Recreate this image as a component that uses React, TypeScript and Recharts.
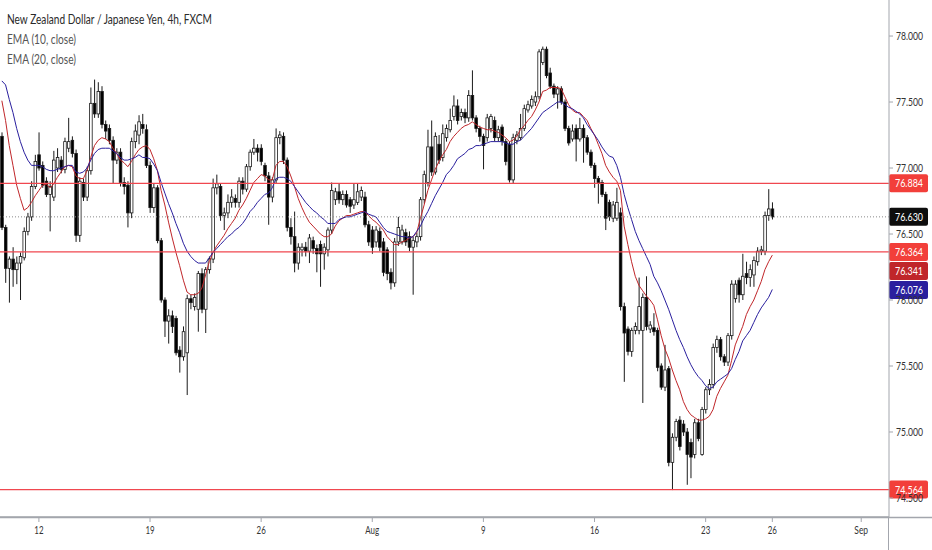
import { Bar, ComposedChart, Line, ReferenceLine, XAxis, YAxis } from 'recharts'

// NZDJPY 4h, FXCM - one entry per candle
const open = [
  77.24, 76.55, 76.24, 76.31, 76.23, 76.28, 76.32, 76.52, 76.63, 76.86,
  77.10, 77.02, 76.90, 76.80, 76.78, 77.00, 77.06, 76.99, 77.15, 77.21,
  77.11, 76.49, 76.89, 76.78, 76.98, 77.49, 77.41, 77.58, 77.33, 77.30,
  77.21, 77.06, 77.12, 76.89, 76.87, 76.66, 77.20, 77.25, 77.33, 77.29,
  77.02, 76.70, 76.85, 76.45, 76.00, 75.84, 75.88, 75.86, 75.62, 75.57,
  75.60, 76.01, 75.95, 75.93, 76.20, 75.93, 76.23, 76.31, 76.85, 76.86,
  76.64, 76.66, 76.74, 76.77, 76.74, 76.90, 76.84, 77.01, 77.12, 77.15,
  77.15, 77.02, 76.94, 76.78, 76.91, 77.23, 77.24, 77.06, 76.55, 76.48,
  76.28, 76.38, 76.40, 76.37, 76.45, 76.39, 76.42, 76.35, 76.38, 76.53,
  76.76, 76.82, 76.76, 76.80, 76.76, 76.72, 76.74, 76.78, 76.78, 76.57,
  76.53, 76.44, 76.52, 76.44, 76.38, 76.21, 76.13, 76.44, 76.44, 76.51,
  76.48, 76.40, 76.44, 76.48, 76.76, 76.89, 77.16, 76.97, 77.18, 77.08,
  77.23, 77.29, 77.39, 77.47, 77.39, 77.42, 77.38, 77.55, 77.38, 77.30,
  77.24, 77.23, 77.30, 77.36, 77.23, 77.31, 77.20, 77.18, 76.91, 77.21,
  77.23, 77.30, 77.44, 77.47, 77.50, 77.54, 77.80, 77.90, 77.72, 77.62,
  77.56, 77.60, 77.50, 77.30, 77.22, 77.30, 77.22, 77.30, 77.23, 77.12,
  77.02, 76.92, 76.89, 76.80, 76.74, 76.62, 76.62, 76.66, 75.95, 75.78,
  75.61, 75.77, 75.77, 75.77, 76.02, 75.78, 75.79, 75.77, 75.50, 75.34,
  75.48, 74.77, 74.96, 75.09, 75.06, 75.00, 74.92, 74.83, 75.07, 74.83,
  75.17, 75.32, 75.36, 75.64, 75.70, 75.57, 75.53, 75.73, 76.01, 76.15,
  76.04, 76.20, 76.17, 76.19, 76.29, 76.37, 76.37, 76.64, 76.69,
]
const high = [
  77.27, 76.57, 76.33, 76.40, 76.33, 76.36, 76.55, 76.66, 76.90, 77.10,
  77.27, 77.05, 76.93, 76.90, 77.13, 77.15, 77.09, 77.23, 77.38, 77.24,
  77.14, 76.93, 76.92, 77.01, 77.61, 77.67, 77.65, 77.62, 77.36, 77.33,
  77.24, 77.15, 77.15, 76.93, 76.90, 77.23, 77.33, 77.40, 77.41, 77.33,
  77.05, 76.88, 76.87, 76.47, 76.02, 75.93, 75.92, 75.88, 75.65, 75.80,
  76.04, 76.04, 76.05, 76.22, 76.24, 76.25, 76.33, 76.92, 76.95, 76.88,
  76.70, 76.80, 76.84, 76.80, 76.93, 76.93, 77.03, 77.14, 77.22, 77.18,
  77.18, 77.04, 76.97, 76.93, 77.30, 77.28, 77.27, 77.08, 76.62, 76.67,
  76.43, 76.43, 76.44, 76.50, 76.48, 76.42, 76.45, 76.43, 76.55, 76.89,
  76.85, 76.88, 76.83, 76.83, 76.78, 76.88, 76.88, 76.86, 76.82, 76.60,
  76.56, 76.56, 76.55, 76.47, 76.40, 76.24, 76.47, 76.63, 76.57, 76.54,
  76.52, 76.48, 76.51, 76.78, 76.98, 77.29, 77.36, 77.27, 77.25, 77.33,
  77.33, 77.45, 77.55, 77.52, 77.45, 77.45, 77.59, 77.74, 77.40, 77.32,
  77.26, 77.41, 77.41, 77.39, 77.32, 77.33, 77.22, 77.20, 77.26, 77.28,
  77.41, 77.48, 77.51, 77.55, 77.58, 77.90, 77.92, 77.92, 77.76, 77.64,
  77.62, 77.62, 77.52, 77.32, 77.33, 77.33, 77.38, 77.33, 77.25, 77.14,
  77.04, 76.94, 76.91, 76.82, 76.76, 76.75, 76.85, 76.70, 75.98, 75.80,
  75.79, 75.83, 76.17, 76.05, 76.18, 75.84, 75.90, 75.79, 75.52, 75.66,
  75.50, 74.99, 75.10, 75.12, 75.09, 75.03, 74.95, 75.10, 75.10, 75.19,
  75.34, 75.40, 75.67, 75.73, 75.72, 75.59, 75.75, 76.15, 76.15, 76.17,
  76.35, 76.29, 76.27, 76.33, 76.40, 76.41, 76.67, 76.84, 76.74,
]
const low = [
  76.53, 76.13, 75.98, 76.10, 76.12, 76.00, 76.30, 76.49, 76.60, 76.84,
  76.98, 76.85, 76.78, 76.52, 76.75, 76.97, 76.96, 76.96, 77.12, 77.08,
  76.44, 76.44, 76.75, 76.75, 76.95, 77.38, 77.38, 77.30, 77.22, 77.18,
  76.88, 77.03, 76.86, 76.80, 76.55, 76.62, 77.15, 77.18, 77.26, 77.00,
  76.66, 76.66, 76.43, 75.98, 75.72, 75.67, 75.75, 75.58, 75.45, 75.54,
  75.28, 75.93, 75.92, 75.76, 75.90, 75.75, 76.20, 76.28, 76.80, 76.60,
  76.53, 76.62, 76.70, 76.70, 76.70, 76.80, 76.82, 76.98, 77.10, 77.05,
  77.02, 76.90, 76.57, 76.74, 76.88, 77.18, 77.03, 76.52, 76.42, 76.21,
  76.23, 76.33, 76.33, 76.28, 76.35, 76.21, 76.10, 76.23, 76.33, 76.50,
  76.72, 76.73, 76.72, 76.70, 76.66, 76.69, 76.72, 76.75, 76.55, 76.41,
  76.35, 76.40, 76.37, 76.18, 76.15, 76.08, 76.10, 76.41, 76.42, 76.41,
  76.37, 76.04, 76.40, 76.45, 76.73, 76.86, 76.94, 76.95, 77.03, 77.05,
  77.20, 77.27, 77.36, 77.33, 77.36, 77.34, 77.35, 77.36, 77.27, 77.20,
  76.99, 77.20, 77.27, 77.20, 77.20, 77.17, 77.02, 76.89, 76.88, 77.18,
  77.21, 77.28, 77.42, 77.45, 77.47, 77.52, 77.78, 77.68, 77.60, 77.53,
  77.45, 77.48, 77.28, 77.17, 77.20, 77.05, 77.20, 77.04, 77.10, 77.00,
  76.85, 76.73, 76.78, 76.53, 76.60, 76.59, 76.60, 75.92, 75.38, 75.58,
  75.57, 75.74, 75.74, 75.22, 75.77, 75.75, 75.73, 75.46, 75.32, 75.31,
  74.74, 74.56, 74.93, 74.86, 74.97, 74.60, 74.65, 74.80, 74.93, 74.82,
  75.14, 75.28, 75.33, 75.60, 75.54, 75.50, 75.50, 75.70, 75.98, 75.98,
  76.00, 76.12, 76.10, 76.10, 76.26, 76.34, 76.34, 76.60, 76.61,
]
const close = [
  76.55, 76.24, 76.31, 76.23, 76.28, 76.33, 76.52, 76.63, 76.86, 77.05,
  77.00, 76.87, 76.80, 76.86, 77.06, 77.08, 76.99, 77.20, 77.20, 77.11,
  76.49, 76.90, 76.78, 76.98, 77.49, 77.41, 77.58, 77.33, 77.28, 77.21,
  77.06, 77.12, 76.89, 76.86, 76.66, 77.20, 77.28, 77.35, 77.30, 77.02,
  76.70, 76.85, 76.45, 76.00, 75.84, 75.88, 75.80, 75.60, 75.57, 75.76,
  76.01, 75.98, 76.02, 76.20, 75.93, 76.23, 76.31, 76.85, 76.88, 76.64,
  76.66, 76.74, 76.78, 76.74, 76.90, 76.84, 77.01, 77.12, 77.15, 77.12,
  77.05, 76.94, 76.78, 76.91, 77.23, 77.25, 77.06, 76.55, 76.48, 76.28,
  76.40, 76.40, 76.37, 76.47, 76.39, 76.35, 76.35, 76.40, 76.53, 76.83,
  76.82, 76.76, 76.80, 76.72, 76.71, 76.76, 76.82, 76.83, 76.57, 76.44,
  76.40, 76.53, 76.40, 76.21, 76.20, 76.13, 76.44, 76.55, 76.53, 76.44,
  76.40, 76.45, 76.48, 76.76, 76.95, 77.16, 76.97, 77.24, 77.06, 77.26,
  77.30, 77.36, 77.47, 77.36, 77.42, 77.38, 77.55, 77.38, 77.30, 77.24,
  77.17, 77.38, 77.39, 77.23, 77.29, 77.20, 77.05, 76.91, 77.23, 77.25,
  77.30, 77.45, 77.48, 77.52, 77.54, 77.88, 77.90, 77.70, 77.62, 77.56,
  77.60, 77.50, 77.30, 77.19, 77.28, 77.22, 77.30, 77.23, 77.12, 77.02,
  76.92, 76.89, 76.80, 76.62, 76.63, 76.72, 76.74, 75.95, 75.75, 75.61,
  75.77, 75.80, 75.95, 76.02, 75.80, 75.81, 75.76, 75.49, 75.34, 75.47,
  74.77, 74.96, 75.08, 74.89, 75.00, 74.83, 74.81, 75.07, 74.95, 75.17,
  75.32, 75.36, 75.64, 75.70, 75.57, 75.53, 75.73, 76.12, 76.12, 76.04,
  76.18, 76.17, 76.23, 76.30, 76.37, 76.38, 76.64, 76.69, 76.63,
]
// EMA lines
const ema10 = [
  77.51, 77.36, 77.17, 77.02, 76.87, 76.77, 76.68, 76.70, 76.74, 76.79,
  76.83, 76.87, 76.88, 76.85, 76.88, 76.93, 76.97, 77.01, 77.02, 77.01,
  76.94, 76.92, 76.92, 76.98, 77.08, 77.17, 77.21, 77.23, 77.22, 77.20,
  77.15, 77.11, 77.06, 77.04, 77.01, 77.05, 77.10, 77.14, 77.16, 77.17,
  77.14, 77.07, 76.98, 76.83, 76.72, 76.59, 76.47, 76.36, 76.26, 76.15,
  76.06, 76.04, 76.04, 76.05, 76.09, 76.19, 76.29, 76.36, 76.41, 76.45,
  76.49, 76.54, 76.58, 76.62, 76.68, 76.72, 76.77, 76.83, 76.89, 76.92,
  76.95, 76.94, 76.91, 76.91, 77.02, 77.05, 77.05, 77.01, 76.94, 76.86,
  76.77, 76.70, 76.64, 76.59, 76.56, 76.53, 76.50, 76.48, 76.48, 76.50,
  76.56, 76.60, 76.62, 76.64, 76.64, 76.65, 76.66, 76.67, 76.67, 76.64,
  76.61, 76.59, 76.56, 76.53, 76.48, 76.45, 76.42, 76.42, 76.44, 76.45,
  76.47, 76.48, 76.51, 76.62, 76.72, 76.83, 76.91, 76.99, 77.05, 77.10,
  77.14, 77.20, 77.24, 77.27, 77.30, 77.32, 77.33, 77.35, 77.33, 77.31,
  77.30, 77.29, 77.29, 77.28, 77.27, 77.25, 77.23, 77.20, 77.21, 77.24,
  77.29, 77.32, 77.36, 77.39, 77.44, 77.50, 77.58, 77.59, 77.61, 77.61,
  77.61, 77.60, 77.54, 77.48, 77.44, 77.42, 77.42, 77.39, 77.36, 77.30,
  77.25, 77.18, 77.11, 77.02, 76.97, 76.93, 76.90, 76.83, 76.56, 76.42,
  76.29, 76.18, 76.11, 76.07, 76.03, 76.00, 75.96, 75.85, 75.73, 75.63,
  75.56, 75.47, 75.39, 75.32, 75.23, 75.17, 75.13, 75.11, 75.09, 75.09,
  75.10, 75.12, 75.17, 75.27, 75.33, 75.38, 75.43, 75.54, 75.66, 75.73,
  75.80, 75.89, 75.95, 76.00, 76.07, 76.14, 76.23, 76.29, 76.34,
]
const ema20 = [
  77.66, 77.63, 77.52, 77.42, 77.30, 77.20, 77.12, 77.06, 77.02, 77.02,
  77.02, 77.01, 76.99, 76.98, 76.98, 76.99, 77.00, 77.01, 77.02, 77.02,
  76.97, 76.96, 76.97, 77.00, 77.06, 77.11, 77.14, 77.15, 77.15, 77.15,
  77.13, 77.11, 77.08, 77.06, 77.06, 77.07, 77.08, 77.10, 77.08, 77.08,
  77.07, 77.03, 76.98, 76.89, 76.81, 76.73, 76.66, 76.58, 76.51, 76.43,
  76.37, 76.33, 76.30, 76.28, 76.28, 76.28, 76.32, 76.36, 76.39, 76.42,
  76.45, 76.48, 76.50, 76.53, 76.55, 76.58, 76.62, 76.67, 76.70, 76.74,
  76.77, 76.80, 76.81, 76.85, 76.92, 76.93, 76.93, 76.92, 76.90, 76.86,
  76.82, 76.78, 76.74, 76.71, 76.68, 76.66, 76.63, 76.61, 76.58, 76.58,
  76.58, 76.61, 76.62, 76.63, 76.63, 76.64, 76.65, 76.66, 76.67, 76.65,
  76.64, 76.63, 76.59, 76.55, 76.52, 76.51, 76.50, 76.49, 76.48, 76.48,
  76.47, 76.48, 76.52, 76.56, 76.62, 76.67, 76.73, 76.79, 76.84, 76.89,
  76.95, 76.98, 77.02, 77.07, 77.09, 77.11, 77.14, 77.15, 77.17, 77.17,
  77.18, 77.19, 77.20, 77.20, 77.20, 77.20, 77.19, 77.18, 77.18, 77.20,
  77.21, 77.24, 77.27, 77.30, 77.34, 77.38, 77.42, 77.44, 77.46, 77.48,
  77.50, 77.50, 77.48, 77.46, 77.45, 77.43, 77.41, 77.38, 77.33, 77.29,
  77.25, 77.21, 77.16, 77.12, 77.09, 77.08, 77.02, 76.93, 76.80, 76.70,
  76.61, 76.52, 76.45, 76.39, 76.33, 76.27, 76.18, 76.13, 76.07, 76.00,
  75.93, 75.85, 75.77, 75.70, 75.64, 75.57, 75.51, 75.46, 75.42, 75.39,
  75.35, 75.33, 75.34, 75.38, 75.40, 75.42, 75.44, 75.48, 75.55, 75.61,
  75.69, 75.73, 75.77, 75.83, 75.89, 75.94, 75.98, 76.02, 76.08,
]

// time axis: candle slot of the first bar of each labelled day
const dateSlots = [10, 40, 70, 100, 130, 160, 190, 208, 232]
const dateLabels = ['12', '19', '26', 'Aug', '9', '16', '23', '26', 'Sep']
const priceTicks = [74.5, 75, 75.5, 76, 76.5, 77, 77.5, 78]
const priceDomain = [74.356, 78.273]

// horizontal levels drawn on the chart
const levels = [76.884, 76.364, 74.564]
const lastPrice = 76.63
const lastEma10 = 76.341
const lastEma20 = 76.076

const SLOTS = 240 // candles + empty space to the right

const rows = Array.from({ length: SLOTS }, (_, i) =>
  i < close.length
    ? {
        i,
        open: open[i],
        high: high[i],
        low: low[i],
        close: close[i],
        range: [low[i], high[i]],
        ema10: ema10[i],
        ema20: ema20[i],
      }
    : { i }
)

const FONT = 'Lato, "Open Sans", sans-serif'
const LEVEL_RED = '#f0474f'
const TAG_RED = '#f23f3a'
const EMA10_COLOR = '#c0262a'
const EMA20_COLOR = '#2a1f9e'
const AXIS_GRAY = '#a3a6ad'

function Candle(props: any) {
  const { x, y, width, height, payload } = props
  if (!payload || payload.range == null) return null
  const top = Math.min(y, y + height)
  const h = Math.abs(height)
  const span = payload.high - payload.low
  const toY = (p: number) => (span === 0 ? top : top + ((payload.high - p) / span) * h)
  const cx = x + width / 2
  const yo = toY(payload.open)
  const yc = toY(payload.close)
  const up = payload.close >= payload.open
  const bw = 2.6
  const bt = Math.min(yo, yc)
  const bh = Math.max(Math.abs(yc - yo), 1)
  return (
    <g>
      <line x1={cx} x2={cx} y1={top} y2={top + h} stroke='#1a1a1a' strokeWidth={1} />
      <rect
        x={cx - bw / 2}
        y={bt}
        width={bw}
        height={bh}
        fill={up ? '#ffffff' : '#000000'}
        stroke='#1a1a1a'
        strokeWidth={0.8}
      />
    </g>
  )
}

function Tag({ viewBox, text, bg, shift = 0 }: any) {
  if (!viewBox) return null
  const x = viewBox.x + viewBox.width
  const cy = viewBox.y + shift
  return (
    <g>
      <rect x={x} y={cy - 9} width={39} height={18} rx={2} fill={bg} />
      <text
        x={x + 20}
        y={cy + 4}
        textAnchor='middle'
        fill='#ffffff'
        fontSize={11}
        fontFamily={FONT}
        textLength={28}
        lengthAdjust='spacingAndGlyphs'
      >
        {text}
      </text>
    </g>
  )
}

function PriceTick({ x, y, payload }: any) {
  return (
    <text
      x={x}
      y={y + 4}
      fill='#333'
      fontSize={11}
      fontFamily={FONT}
      textLength={27}
      lengthAdjust='spacingAndGlyphs'
    >
      {Number(payload.value).toFixed(3)}
    </text>
  )
}

function DateTick({ x, y, payload }: any) {
  const label = dateLabels[dateSlots.indexOf(payload.value)] ?? ''
  const w = label.length * 4.6
  return (
    <text
      x={x}
      y={y + 10}
      fill='#333'
      fontSize={11}
      fontFamily={FONT}
      textAnchor='middle'
      textLength={w}
      lengthAdjust='spacingAndGlyphs'
    >
      {label}
    </text>
  )
}

export default function App() {
  return (
    <div style={{ position: 'absolute', left: 0, top: 0, width: 932, height: 550, background: '#fff' }}>
      <ComposedChart
        width={932}
        height={550}
        data={rows}
        margin={{ top: 0, right: 0, bottom: 0, left: 0 }}
        barCategoryGap={0}
      >
        <XAxis
          dataKey='i'
          type='category'
          ticks={dateSlots}
          interval={0}
          height={33}
          axisLine={{ stroke: AXIS_GRAY, strokeWidth: 1.5 }}
          tickLine={{ stroke: AXIS_GRAY }}
          tickSize={5}
          tick={<DateTick />}
        />
        <YAxis
          orientation='right'
          width={43}
          type='number'
          domain={priceDomain}
          allowDataOverflow
          ticks={priceTicks}
          axisLine={{ stroke: AXIS_GRAY, strokeWidth: 1 }}
          tickLine={{ stroke: AXIS_GRAY }}
          tickSize={4}
          tickMargin={3}
          tick={<PriceTick />}
        />
        <Bar dataKey='range' shape={<Candle />} isAnimationActive={false} />
        <Line
          dataKey='ema10'
          stroke={EMA10_COLOR}
          strokeWidth={1}
          dot={false}
          activeDot={false}
          isAnimationActive={false}
        />
        <Line
          dataKey='ema20'
          stroke={EMA20_COLOR}
          strokeWidth={1}
          dot={false}
          activeDot={false}
          isAnimationActive={false}
        />
        <ReferenceLine
          y={lastPrice}
          stroke='#8a8a8a'
          strokeDasharray='1 2'
          label={{ content: (p: any) => <Tag viewBox={p.viewBox} text={lastPrice.toFixed(3)} bg='#0d0d0d' /> }}
        />
        {levels.map((v) => (
          <ReferenceLine
            key={v}
            y={v}
            stroke={LEVEL_RED}
            strokeWidth={1.2}
            label={{ content: (p: any) => <Tag viewBox={p.viewBox} text={v.toFixed(3)} bg={TAG_RED} /> }}
          />
        ))}
        <ReferenceLine
          y={lastEma10}
          stroke='none'
          label={{ content: (p: any) => <Tag viewBox={p.viewBox} text={lastEma10.toFixed(3)} bg={EMA10_COLOR} shift={16} /> }}
        />
        <ReferenceLine
          y={lastEma20}
          stroke='none'
          label={{ content: (p: any) => <Tag viewBox={p.viewBox} text={lastEma20.toFixed(3)} bg={EMA20_COLOR} /> }}
        />
      </ComposedChart>
      <svg
        width={932}
        height={550}
        style={{ position: 'absolute', left: 0, top: 0, pointerEvents: 'none' }}
      >
        {/* time-axis border, continued under the price scale */}
        <line x1={0} x2={932} y1={517.5} y2={517.5} stroke={AXIS_GRAY} strokeWidth={1.5} />
        <line x1={888.5} x2={888.5} y1={517} y2={550} stroke={AXIS_GRAY} strokeWidth={1} />
        <text x={7} y={24} fontSize={12.5} fontFamily={FONT} fill='#2a2a2a' textLength={205} lengthAdjust='spacingAndGlyphs'>
          New Zealand Dollar / Japanese Yen, 4h, FXCM
        </text>
        <text x={7} y={44} fontSize={12.5} fontFamily={FONT} fill='#555' textLength={69} lengthAdjust='spacingAndGlyphs'>
          EMA (10, close)
        </text>
        <text x={7} y={64} fontSize={12.5} fontFamily={FONT} fill='#555' textLength={69} lengthAdjust='spacingAndGlyphs'>
          EMA (20, close)
        </text>
      </svg>
    </div>
  )
}
